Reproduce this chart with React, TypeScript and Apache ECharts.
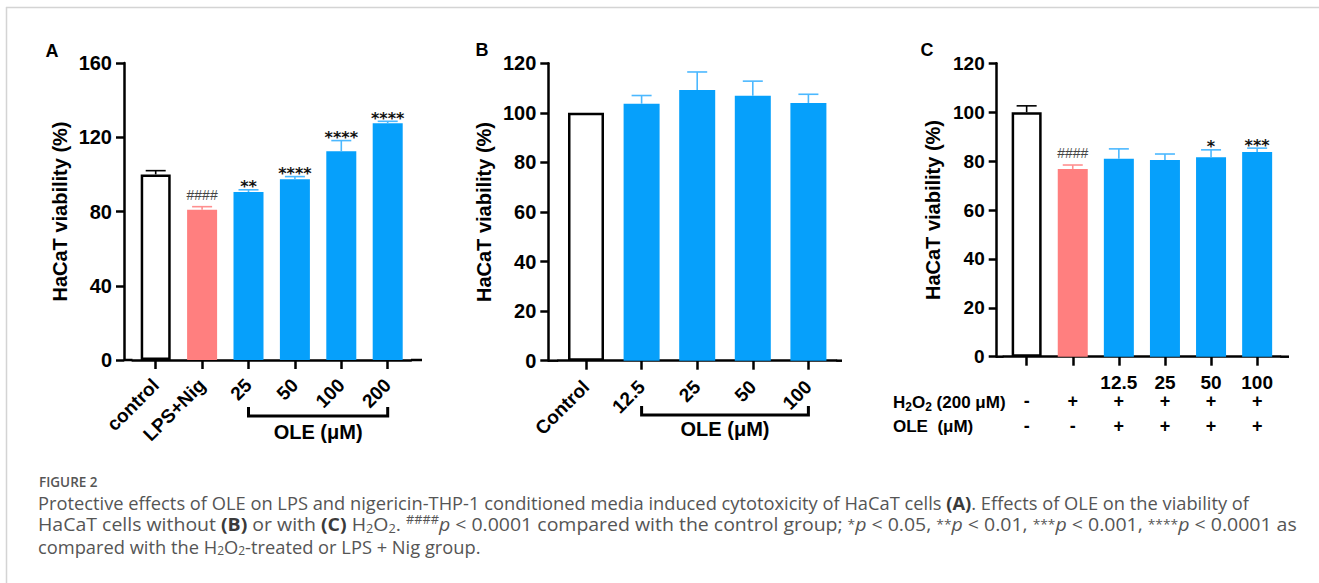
import React, { useEffect, useRef } from "react";
import * as echarts from "echarts";

// ---------- data ----------
const catsA = ["control", "LPS+Nig", "25", "50", "100", "200"];
const meanA = [100, 81, 90.5, 97.4, 112.4, 127.5];
const errA = [102, 82.6, 91.7, 98.8, 118.2, 128.6];
const sigA = ["", "####", "**", "****", "****", "****"];

const catsB = ["Control", "12.5", "25", "50", "100"];
const meanB = [100, 103.7, 109.2, 106.9, 104];
const errB = [100, 107, 116.5, 112.8, 107.5];
const sigB = ["", "", "", "", ""];

const catsC = ["control", "H2O2", "12.5", "25", "50", "100"];
const tickLabelsC = ["", "", "12.5", "25", "50", "100"];
const meanC = [100, 76.8, 81, 80.4, 81.6, 83.7];
const errC = [102.6, 78.4, 85, 82.9, 84.6, 85.3];
const sigC = ["", "####", "", "", "*", "***"];
const h2o2Row = ["-", "+", "+", "+", "+", "+"];
const oleRow = ["-", "-", "+", "+", "+", "+"];

const yTicksA = { min: 0, max: 160, interval: 40 };
const yTicksBC = { min: 0, max: 120, interval: 20 };

// ---------- styles ----------
const FONT = 'Arial, "Liberation Sans", sans-serif';
const BLUE = "#06a0fb";
const BLUE_ERR = "#4bb8ff";
const PINK = "#ff7f7f";
const PINK_ERR = "#ff8f8f";

const LAY = {
  A: { left: 132.5, width: 278.4, top: 63, height: 297, axisX: 124, axisEnd: 422, tickFont: 20 },
  B: { left: 558.2, width: 278, top: 63.3, height: 297.4, axisX: 548.3, axisEnd: 842, tickFont: 20 },
  C: { left: 1003.6, width: 276.6, top: 63.3, height: 293.4, axisX: 996.7, axisEnd: 1289, tickFont: 19 },
};

function kindOf(cat: string, i: number) {
  if (i === 0) return "control";
  if (cat === "LPS+Nig" || cat === "H2O2") return "model";
  return "ole";
}

function barItems(cats: string[], vals: number[]) {
  return vals.map((v, i) => {
    const k = kindOf(cats[i], i);
    if (k === "control")
      return { value: v, itemStyle: { color: "#ffffff", borderColor: "#000", borderWidth: 2.5 } };
    if (k === "model") return { value: v, itemStyle: { color: PINK } };
    return { value: v, itemStyle: { color: BLUE } };
  });
}

function errSeries(idx: number, cats: string[], mean: number[], err: number[], sig: string[]) {
  return {
    type: "custom",
    xAxisIndex: idx,
    yAxisIndex: idx,
    z: 5,
    data: mean.map((m, i) => [i, m, err[i]]),
    renderItem: (params: any, api: any) => {
      const i = api.value(0);
      const base = api.coord([i, api.value(1)]);
      const top = api.coord([i, api.value(2)]);
      const k = kindOf(cats[params.dataIndex], params.dataIndex);
      const c = k === "control" ? "#000" : k === "model" ? PINK_ERR : BLUE_ERR;
      const children: any[] = [];
      if (api.value(2) > api.value(1)) {
        children.push({
          type: "line",
          shape: { x1: base[0], y1: base[1], x2: top[0], y2: top[1] },
          style: { stroke: c, lineWidth: 1.6 },
        });
        children.push({
          type: "line",
          shape: { x1: top[0] - 10, y1: top[1], x2: top[0] + 10, y2: top[1] },
          style: { stroke: c, lineWidth: 1.6 },
        });
      }
      const s = sig[params.dataIndex];
      if (s) {
        const isHash = s.indexOf("#") >= 0;
        children.push({
          type: "text",
          x: top[0],
          y: isHash ? top[1] - 12 : top[1] - 3,
          style: {
            text: s,
            textAlign: "center",
            textVerticalAlign: "middle",
            fontFamily: isHash ? FONT : '"DejaVu Sans", sans-serif',
            fontWeight: isHash ? "normal" : "bold",
            fontSize: isHash ? 14 : 16,
            fill: isHash ? "#444" : "#111",
          },
        });
      }
      return { type: "group", children };
    },
  };
}

function yAxisDef(idx: number, t: any, offset: number, fs: number) {
  return {
    type: "value",
    gridIndex: idx,
    min: t.min,
    max: t.max,
    interval: t.interval,
    offset,
    name: "HaCaT viability (%)",
    nameLocation: "middle",
    nameGap: 54,
    nameTextStyle: { fontFamily: FONT, fontWeight: "bold", fontSize: 20, color: "#000" },
    axisLine: { show: true, lineStyle: { color: "#000", width: 2.5 } },
    axisTick: { show: true, length: 8, lineStyle: { color: "#000", width: 2.5 } },
    axisLabel: { fontFamily: FONT, fontWeight: "bold", fontSize: fs, color: "#000", margin: 12 },
    splitLine: { show: false },
  };
}

function xAxisDef(idx: number, cats: string[], labelOpts: any) {
  return {
    type: "category",
    gridIndex: idx,
    data: cats,
    axisLine: { show: true, lineStyle: { color: "#000", width: 2.5 } },
    axisTick: { show: true, alignWithLabel: true, length: 9, lineStyle: { color: "#000", width: 2.5 } },
    axisLabel: { fontFamily: FONT, fontWeight: "bold", color: "#000", interval: 0, ...labelOpts },
  };
}

function catX(l: any, n: number, i: number) {
  return l.left + (l.width / n) * (i + 0.5);
}

function bracket(l: any, n: number, i0: number, i1: number, y: number) {
  const x0 = catX(l, n, i0);
  const x1 = catX(l, n, i1);
  return {
    type: "polyline",
    shape: { points: [[x0, y - 9], [x0, y], [x1, y], [x1, y - 9]] },
    style: { stroke: "#000", lineWidth: 3, fill: null },
  };
}

function axisExt(l: any) {
  const y = l.top + l.height;
  return [
    { type: "line", shape: { x1: l.axisX, y1: y, x2: l.left, y2: y }, style: { stroke: "#000", lineWidth: 2.5 } },
    { type: "line", shape: { x1: l.left + l.width, y1: y, x2: l.axisEnd, y2: y }, style: { stroke: "#000", lineWidth: 2.5 } },
  ];
}

function txt(x: number, y: number, text: string, extra: any = {}) {
  return {
    type: "text",
    x,
    y,
    style: {
      text,
      fontFamily: FONT,
      fontWeight: "bold",
      fontSize: 16,
      fill: "#000",
      textAlign: "center",
      textVerticalAlign: "middle",
      ...extra,
    },
  };
}

const CAP_FONT = '"Open Sans", sans-serif';
const CAP_SIZE = 18.3;
const CAP_LH = 21;
const CAP_COLOR = "#555";
const capRich = {
  b: { fontFamily: CAP_FONT, fontSize: CAP_SIZE, fontWeight: "bold", fill: "#3a3a3a", lineHeight: CAP_LH },
  i: { fontFamily: CAP_FONT, fontSize: CAP_SIZE, fontStyle: "italic", fill: CAP_COLOR, lineHeight: CAP_LH },
  sub: { fontFamily: CAP_FONT, fontSize: 12, fill: CAP_COLOR, lineHeight: 9, verticalAlign: "bottom" },
  sup: { fontFamily: CAP_FONT, fontSize: 12, fill: CAP_COLOR, lineHeight: 12, verticalAlign: "top" },
  ast: { fontFamily: CAP_FONT, fontSize: 13, fill: CAP_COLOR, lineHeight: 13, verticalAlign: "middle" },
};
function capLine(y: number, text: string, scaleX = 1) {
  return {
    type: "text",
    x: 38,
    y,
    scaleX,
    style: {
      text,
      fontFamily: CAP_FONT,
      fontSize: CAP_SIZE,
      fill: CAP_COLOR,
      lineHeight: CAP_LH,
      textAlign: "left",
      textVerticalAlign: "middle",
      rich: capRich,
    },
  };
}

export default function App() {
  const ref = useRef<HTMLDivElement>(null);
  useEffect(() => {
    if (!ref.current) return;
    const chart = echarts.init(ref.current, null, { renderer: "svg" });
    const nA = catsA.length, nB = catsB.length, nC = catsC.length;
    const LA = LAY.A, LB = LAY.B, LC = LAY.C;

    const graphics: any[] = [
      // frame
      { type: "line", shape: { x1: 6, y1: 7.5, x2: 1319, y2: 7.5 }, style: { stroke: "#d4d4d4", lineWidth: 1.5 } },
      { type: "line", shape: { x1: 6.5, y1: 7, x2: 6.5, y2: 583 }, style: { stroke: "#d4d4d4", lineWidth: 1.5 } },
      // panel letters
      txt(52, 51, "A", { fontSize: 18 }),
      txt(482, 50, "B", { fontSize: 18 }),
      txt(927, 50, "C", { fontSize: 18 }),
      ...axisExt(LA),
      ...axisExt(LB),
      ...axisExt(LC),
      bracket(LA, nA, 2, 5, 416),
      txt((catX(LA, nA, 2) + catX(LA, nA, 5)) / 2, 432, "OLE (μM)", { fontSize: 20 }),
      bracket(LB, nB, 1, 4, 415),
      txt((catX(LB, nB, 1) + catX(LB, nB, 4)) / 2, 429, "OLE (μM)", { fontSize: 20 }),
      // table of panel C
      {
        type: "text",
        x: 893,
        y: 402,
        style: {
          text: "H{s|2}O{s|2} (200 μM)",
          fontFamily: FONT,
          fontWeight: "bold",
          fontSize: 17,
          fill: "#000",
          lineHeight: 21,
          textAlign: "left",
          textVerticalAlign: "middle",
          rich: { s: { fontFamily: FONT, fontWeight: "bold", fontSize: 12, lineHeight: 12, verticalAlign: "bottom", fill: "#000" } },
        },
      },
      txt(893, 426.5, "OLE  (μM)", { fontSize: 17, textAlign: "left" }),
      ...h2o2Row.map((s, i) => txt(catX(LC, nC, i), 401, s, { fontSize: 18 })),
      ...oleRow.map((s, i) => txt(catX(LC, nC, i), 426, s, { fontSize: 18 })),
      // caption
      {
        type: "text",
        x: 39,
        y: 482,
        style: { text: "FIGURE 2", fontFamily: CAP_FONT, fontWeight: 600, fontSize: 13.5, fill: "#555", textAlign: "left", textVerticalAlign: "middle" },
      },
      capLine(
        502,
        "Protective effects of OLE on LPS and nigericin-THP-1 conditioned media induced cytotoxicity of HaCaT cells {b|(A)}. Effects of OLE on the viability of"
      ),
      capLine(
        524,
        "HaCaT cells without {b|(B)} or with {b|(C)} H{sub|2}O{sub|2}. {sup|####}{i|p} < 0.0001 compared with the control group; {ast|*}{i|p} < 0.05, {ast|**}{i|p} < 0.01, {ast|***}{i|p} < 0.001, {ast|****}{i|p} < 0.0001 as",
        1.065
      ),
      capLine(546, "compared with the H{sub|2}O{sub|2}-treated or LPS + Nig group."),
    ];

    chart.setOption({
      animation: false,
      backgroundColor: "#fff",
      grid: [
        { left: LA.left, top: LA.top, width: LA.width, height: LA.height },
        { left: LB.left, top: LB.top, width: LB.width, height: LB.height },
        { left: LC.left, top: LC.top, width: LC.width, height: LC.height },
      ],
      xAxis: [
        xAxisDef(0, catsA, { rotate: 45, fontSize: 19, margin: 22 }),
        xAxisDef(1, catsB, { rotate: 45, fontSize: 19, margin: 23 }),
        xAxisDef(2, catsC, { rotate: 0, fontSize: 19, margin: 16, formatter: (_v: string, i: number) => tickLabelsC[i] }),
      ],
      yAxis: [
        yAxisDef(0, yTicksA, LA.left - LA.axisX, LA.tickFont),
        yAxisDef(1, yTicksBC, LB.left - LB.axisX, LB.tickFont),
        yAxisDef(2, yTicksBC, LC.left - LC.axisX, LC.tickFont),
      ],
      series: [
        { type: "bar", xAxisIndex: 0, yAxisIndex: 0, barWidth: 30, data: barItems(catsA, meanA) },
        { type: "bar", xAxisIndex: 1, yAxisIndex: 1, barWidth: 36, data: barItems(catsB, meanB) },
        { type: "bar", xAxisIndex: 2, yAxisIndex: 2, barWidth: 30, data: barItems(catsC, meanC) },
        errSeries(0, catsA, meanA, errA, sigA),
        errSeries(1, catsB, meanB, errB, sigB),
        errSeries(2, catsC, meanC, errC, sigC),
      ],
      graphic: graphics,
    });
    return () => chart.dispose();
  }, []);
  return (
    <div
      ref={ref}
      style={{ position: "fixed", left: 0, top: 0, width: 1319, height: 583, background: "#fff" }}
    />
  );
}
